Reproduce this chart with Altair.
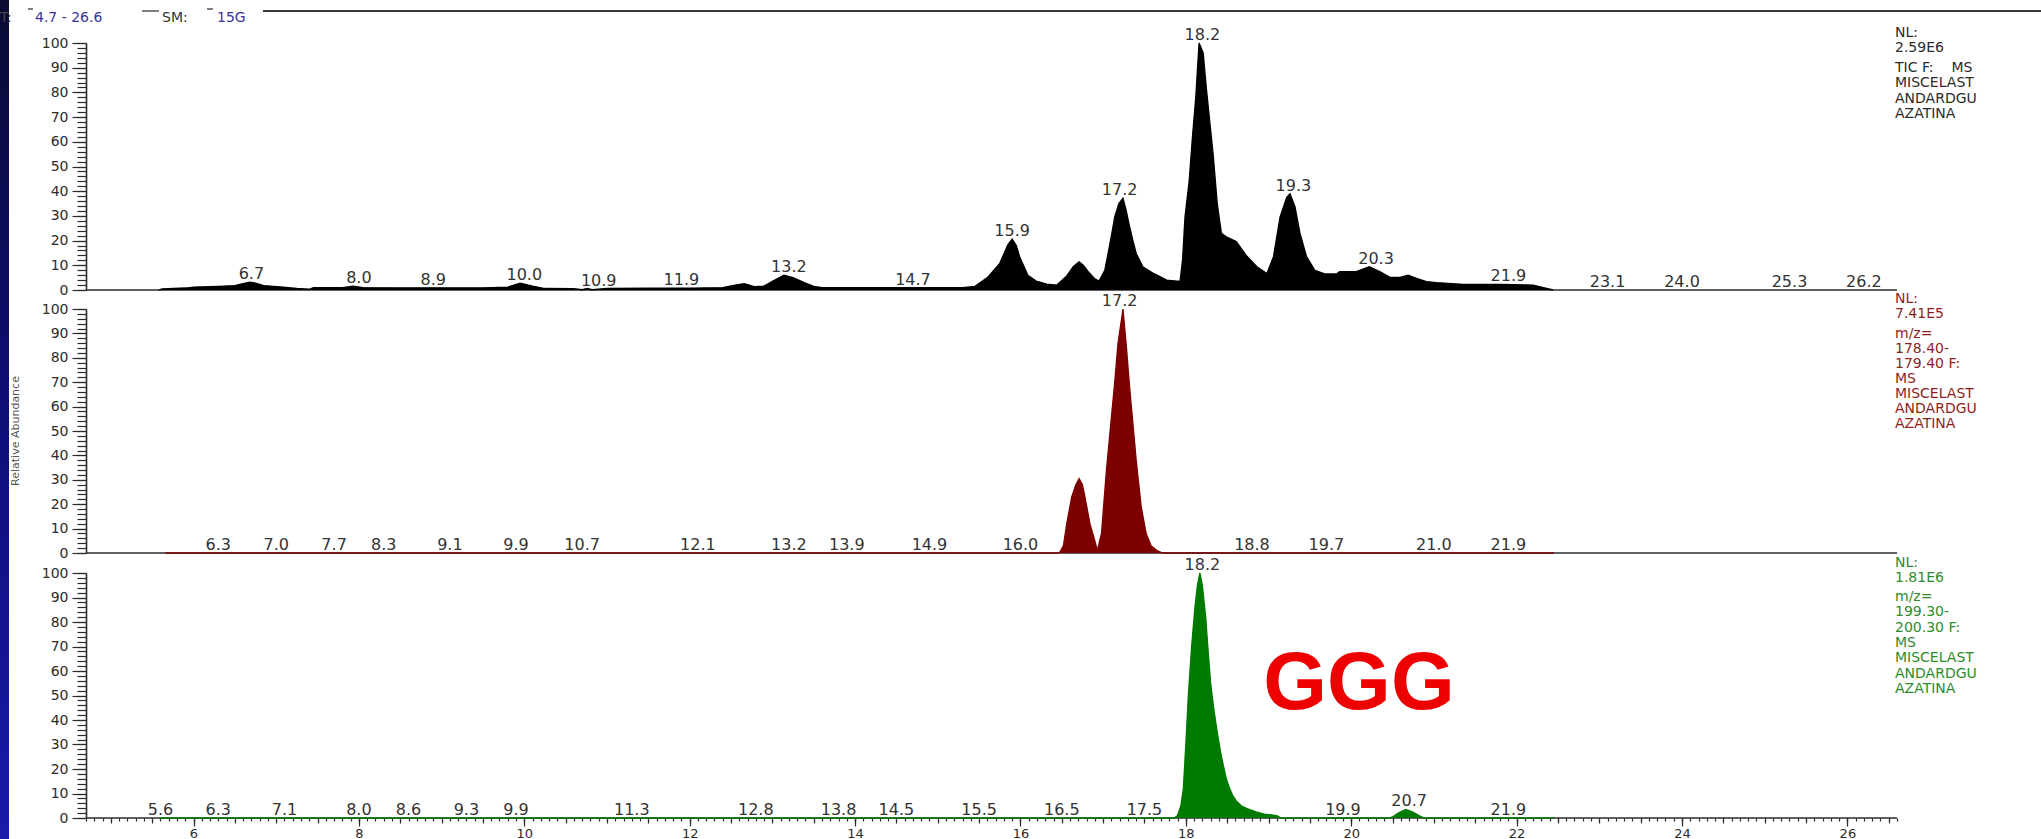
import altair as alt
import numpy as np
import pandas as pd

FONT = "DejaVu Sans"
INK = "#2b2b2b"

# ---------------- chromatogram data (relative abundance, %) ----------------
T_START, T_END = 4.7, 26.6

# TIC
tic_time = [5.58, 5.62, 5.90, 6.00, 6.30, 6.50, 6.60, 6.68, 6.75, 6.85,
            7.05, 7.25, 7.40, 7.45, 7.80, 7.93, 8.05, 8.50, 9.00, 9.50,
            9.80, 9.95, 10.10, 10.25, 10.60, 10.70, 10.76, 10.82, 11.00, 11.50,
            12.00, 12.40, 12.55, 12.66, 12.78, 12.90, 13.00, 13.14, 13.25, 13.40,
            13.50, 13.60, 14.00, 14.70, 15.30, 15.45, 15.60, 15.75, 15.85, 15.90,
            15.95, 15.99, 16.09, 16.19, 16.32, 16.44, 16.56, 16.64, 16.71, 16.76,
            16.82, 16.90, 16.95, 17.02, 17.06, 17.10, 17.14, 17.19, 17.24, 17.28,
            17.32, 17.36, 17.40, 17.48, 17.61, 17.77, 17.89, 17.93, 17.96, 17.99,
            18.04, 18.08, 18.12, 18.16, 18.21, 18.25, 18.29, 18.33, 18.38, 18.43,
            18.49, 18.61, 18.73, 18.86, 18.98, 19.06, 19.14, 19.22, 19.26, 19.32,
            19.38, 19.46, 19.56, 19.68, 19.82, 19.86, 20.06, 20.22, 20.35, 20.47,
            20.59, 20.69, 20.79, 20.91, 21.03, 21.35, 21.80, 22.20, 22.30, 22.44]
tic_abund = [0.0, 0.4, 0.8, 1.2, 1.5, 1.8, 2.6, 3.2, 2.8, 1.8,
             1.3, 0.6, 0.3, 1.0, 1.0, 1.6, 1.0, 0.9, 0.9, 0.9,
             1.2, 2.8, 1.6, 0.6, 0.5, 0.1, 0.6, 0.1, 0.6, 0.7,
             0.7, 1.0, 2.0, 2.6, 1.4, 1.6, 3.5, 6.0, 5.0, 2.8,
             1.5, 1.0, 1.0, 1.0, 1.0, 1.5, 5.0, 10.8, 18.5, 20.6,
             18.0, 13.5, 6.0, 3.6, 2.4, 2.0, 5.7, 9.5, 11.4, 10.0,
             7.4, 4.5, 3.6, 8.0, 14.8, 22.0, 29.6, 35.0, 37.2, 32.0,
             25.6, 20.0, 14.8, 9.4, 6.7, 4.0, 3.6, 3.6, 12.0, 29.6,
             44.0, 62.0, 78.0, 100.0, 96.0, 81.0, 68.0, 55.0, 35.0, 23.0,
             21.5, 19.6, 14.0, 9.4, 6.7, 13.5, 29.6, 37.5, 39.0, 33.7,
             23.0, 13.5, 8.0, 6.5, 6.5, 7.4, 7.4, 9.4, 7.4, 5.1,
             5.1, 6.0, 4.7, 3.4, 3.0, 2.3, 2.3, 2.0, 1.2, 0.0]

# m/z 178.40-179.40
xic178_time = [5.66, 16.45, 16.48, 16.52, 16.56, 16.62, 16.67, 16.71, 16.75, 16.78,
               16.84, 16.90, 16.93, 16.98, 17.04, 17.09, 17.14, 17.18, 17.24, 17.28,
               17.32, 17.36, 17.40, 17.46, 17.52, 17.58, 17.65, 17.72, 22.45]
xic178_abund = [0, 0, 0.5, 3, 12, 23, 28, 30.5, 28, 23,
                12, 5, 1, 8, 34, 52, 70, 86, 100, 85,
                68, 53, 38, 19, 8, 3, 1, 0, 0]

# m/z 199.30-200.30
xic199_time = [5.60, 17.86, 17.90, 17.94, 17.97, 18.00, 18.03, 18.07, 18.11, 18.14,
               18.17, 18.20, 18.24, 18.27, 18.30, 18.34, 18.38, 18.42, 18.45, 18.49,
               18.53, 18.57, 18.61, 18.67, 18.74, 18.85, 18.95, 19.10, 19.15, 20.45,
               20.50, 20.58, 20.66, 20.74, 20.82, 20.88, 22.45]
xic199_abund = [0, 0, 1, 5, 12, 30, 50, 70, 86, 95,
                100, 95, 82, 68, 55, 44, 35, 27, 22, 16,
                12, 9, 7, 5, 3.8, 2.5, 1.6, 1.0, 0, 0,
                0.5, 2.2, 3.5, 2.5, 1.0, 0, 0]

# Retention-time annotations and the abundance they sit on
tic_labels = ["6.7", "8.0", "8.9", "10.0", "10.9", "11.9", "13.2", "14.7", "15.9",
              "17.2", "18.2", "19.3", "20.3", "21.9", "23.1", "24.0", "25.3", "26.2"]
tic_label_levels = [3.2, 1.6, 0.9, 2.8, 0.6, 0.7, 6.0, 1.0, 20.6,
                    37.2, 100, 39.0, 9.4, 2.3, 0, 0, 0, 0]
xic178_labels = ["6.3", "7.0", "7.7", "8.3", "9.1", "9.9", "10.7", "12.1", "13.2",
                 "13.9", "14.9", "16.0", "17.2", "18.8", "19.7", "21.0", "21.9"]
xic178_label_levels = [0, 0, 0, 0, 0, 0, 0, 0, 0, 0, 0, 0, 100, 0, 0, 0, 0]
xic199_labels = ["5.6", "6.3", "7.1", "8.0", "8.6", "9.3", "9.9", "11.3", "12.8",
                 "13.8", "14.5", "15.5", "16.5", "17.5", "18.2", "19.9", "20.7", "21.9"]
xic199_label_levels = [0, 0, 0, 0, 0, 0, 0, 0, 0, 0, 0, 0, 0, 0, 100, 0, 3.5, 0]

tic_info = ["NL:", "2.59E6", "TIC F:\u00a0\u00a0\u00a0\u00a0MS", "MISCELAST", "ANDARDGU", "AZATINA"]
xic178_info = ["NL:", "7.41E5", "m/z=", "178.40-", "179.40 F:", "MS",
               "MISCELAST", "ANDARDGU", "AZATINA"]
xic199_info = ["NL:", "1.81E6", "m/z=", "199.30-", "200.30 F:", "MS",
               "MISCELAST", "ANDARDGU", "AZATINA"]

rt_major_ticks = list(range(6, 27, 2))
rt_half_ticks = np.round(np.arange(5.0, 26.51, 0.5), 1).tolist()
rt_minor_ticks = np.round(np.arange(4.7, 26.61, 0.1), 1).tolist()
abund_major_ticks = list(range(0, 101, 10))
abund_minor_ticks = list(range(0, 101, 2))

# ---------------- layout (pixels) ----------------
W, H, PAD_BOTTOM = 2041, 818, 21
X_PX = [86, 1897]
PANEL_PX = [(290, 43), (553, 309), (818, 573)]   # (y at 0 %, y at 100 %)
INFO_X = 1895

panels = [
    dict(t=tic_time, a=tic_abund, labels=tic_labels, levels=tic_label_levels,
         fill="#000000", info=tic_info, info_color="#2b2b2b", lh=15.5, gap=4),
    dict(t=xic178_time, a=xic178_abund, labels=xic178_labels, levels=xic178_label_levels,
         fill="#7d0000", info=xic178_info, info_color="#8e1f1f", lh=15, gap=5),
    dict(t=xic199_time, a=xic199_abund, labels=xic199_labels, levels=xic199_label_levels,
         fill="#007a00", info=xic199_info, info_color="#2e8b2e", lh=15.3, gap=4),
]

xscale = alt.Scale(domain=[T_START, T_END], range=X_PX, nice=False, zero=False)


def yscale(i):
    lo, hi = PANEL_PX[i]
    return alt.Scale(domain=[0, 100], range=[lo, hi], nice=False, zero=False)


AX = dict(grid=False, title=None, domainColor=INK, tickColor=INK, domainWidth=1.6,
          tickWidth=1.2, labelFont=FONT, labelColor=INK)

# the y axes sit on the left end of the time range, not on the canvas edge
y_major = alt.Axis(orient="left", offset=-X_PX[0], values=abund_major_ticks, tickSize=14,
                   labelPadding=4, labelFontSize=14, format="d", **AX)
y_minor = alt.Axis(orient="left", offset=-X_PX[0], values=abund_minor_ticks, tickSize=9,
                   labels=False, domain=False, **AX)
x_major = alt.Axis(orient="bottom", values=rt_major_ticks, tickSize=8, labelPadding=1,
                   labelFontSize=13, format="d", domain=False, labelFlush=False, **AX)
x_half = alt.Axis(orient="bottom", values=rt_half_ticks, tickSize=5, labels=False,
                  domain=False, **AX)
x_minor = alt.Axis(orient="bottom", values=rt_minor_ticks, tickSize=3, labels=False,
                   domain=False, **AX)

one = pd.DataFrame({"k": [0]})
baseline = pd.DataFrame({"t0": [T_START], "t1": [T_END], "v": [0]})

layers = []

# header strip frame line
layers.append(alt.Chart(one).mark_rule(color="#3a3a3a", strokeWidth=2).encode(
    x=alt.value(263), x2=alt.value(W), y=alt.value(11)))
for x0, x1, yy in [(28, 33, 9), (142, 159, 11), (207, 213, 9)]:
    layers.append(alt.Chart(one).mark_rule(color="#555555", strokeWidth=1.5).encode(
        x=alt.value(x0), x2=alt.value(x1), y=alt.value(yy)))

for i, p in enumerate(panels):
    trace = pd.DataFrame({"t": p["t"], "a": p["a"]})
    labs = pd.DataFrame({"t": [float(s) for s in p["labels"]], "lvl": p["levels"],
                         "lab": p["labels"]})
    last = i == len(panels) - 1

    # zero line of the panel (carries the minor abundance ticks)
    layers.append(alt.Chart(baseline).mark_rule(color=INK, strokeWidth=1.6).encode(
        x=alt.X("t0:Q", scale=xscale, axis=x_half if last else None),
        x2="t1:Q",
        y=alt.Y("v:Q", scale=yscale(i), axis=y_minor)))

    # filled trace
    layers.append(alt.Chart(trace).mark_area(
        color=p["fill"], opacity=1,
        line={"color": p["fill"], "strokeWidth": 1.3}).encode(
        x=alt.X("t:Q", scale=xscale, axis=x_major if last else None),
        y=alt.Y("a:Q", scale=yscale(i), axis=y_major),
        y2=alt.datum(0)))

    # retention-time annotations
    layers.append(alt.Chart(labs).mark_text(
        font=FONT, fontSize=16, color="#333333", baseline="alphabetic", dy=-3).encode(
        x=alt.X("t:Q", scale=xscale, axis=x_minor if last else None),
        y=alt.Y("lvl:Q", scale=yscale(i), axis=None),
        text="lab:N"))

    # normalisation / filter text block at the right
    y0 = PANEL_PX[i][1] - 10.5
    for k, line in enumerate(p["info"]):
        yy = y0 + k * p["lh"] + (p["gap"] if k >= 2 else 0)
        layers.append(alt.Chart(one).mark_text(
            text=line, font=FONT, fontSize=14, color=p["info_color"],
            align="left", baseline="middle").encode(
            x=alt.value(INFO_X), y=alt.value(yy)))

# compound tag
layers.append(alt.Chart(one).mark_text(
    text="GGG", font="Liberation Sans", fontSize=82, fontWeight="bold",
    color="#ee0000", align="center", baseline="alphabetic").encode(
    x=alt.value(1359), y=alt.value(709)))

# shared y title
layers.append(alt.Chart(one).mark_text(
    text="Relative Abundance", font=FONT, fontSize=11, color="#555555", angle=270,
    align="center", baseline="alphabetic").encode(x=alt.value(19), y=alt.value(431)))

# dark blue slide edge
layers.append(alt.Chart(one).mark_rect(
    color=alt.Gradient(gradient="linear",
                       stops=[alt.GradientStop(color="#0a0a32", offset=0),
                              alt.GradientStop(color="#0e0e78", offset=0.5),
                              alt.GradientStop(color="#1a1aaa", offset=1)],
                       x1=0, x2=0, y1=0, y2=1)).encode(
    x=alt.value(0), x2=alt.value(9), y=alt.value(0), y2=alt.value(H + PAD_BOTTOM)))

# header text
header = [("T:", 0, "#444444"), ("4.7 - 26.6", 35, "#35359a"),
          ("SM:", 162, "#333333"), ("15G", 217, "#35359a")]
for txt, x0, col in header:
    layers.append(alt.Chart(one).mark_text(
        text=txt, font=FONT, fontSize=14, color=col, align="left",
        baseline="middle").encode(x=alt.value(x0), y=alt.value(18)))

chart = alt.layer(*layers).resolve_scale(
    x="independent", y="independent").resolve_axis(
    x="independent", y="independent").properties(
    width=W, height=H,
    autosize=alt.AutoSizeParams(type="none"),
    padding={"left": 0, "top": 0, "right": 0, "bottom": PAD_BOTTOM},
    background="white").configure_view(strokeWidth=0)

chart.save("out.html", embed_options={"renderer": "svg", "actions": False})
